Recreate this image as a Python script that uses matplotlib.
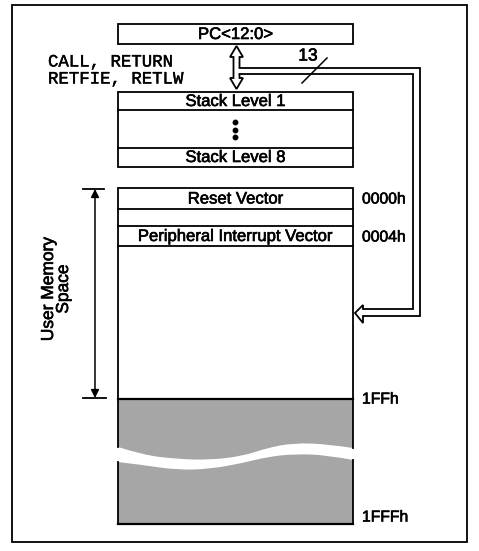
import matplotlib.pyplot as plt
import matplotlib.patheffects as pe
from matplotlib.patches import Rectangle, Polygon, PathPatch
from matplotlib.path import Path

# text content
pc_label = "PC<12:0>"
instr_lines = ["CALL, RETURN", "RETFIE, RETLW"]
bus_width = "13"
stack_labels = ["Stack Level 1", "Stack Level 8"]
mem_rows = ["Reset Vector", "", "Peripheral Interrupt Vector"]
addr_labels = ["0000h", "0004h", "1FFh", "1FFFh"]
side_label = "User Memory\nSpace"

# wave break through the unimplemented (grey) part
wave_x = [118, 143, 177, 210, 243, 267, 293, 327, 353]
wave_top = [447, 455, 459, 460, 456, 448, 443, 444, 448]
wave_bot = [462, 465, 470, 469, 463, 457, 454, 455, 460]

fig = plt.figure(figsize=(4.79, 5.51), dpi=100)
ax = fig.add_axes([0, 0, 1, 1])
ax.set_xlim(0, 479)
ax.set_ylim(551, 0)
ax.axis("off")

sans = "Liberation Sans"
thick = [pe.withStroke(linewidth=0.45, foreground="black")]
lw = 1.3
L, R = 118, 353
cx = (L + R) / 2

def label(x, y, s, size=12, **kw):
    ax.text(x, y, s, family=sans, fontsize=size, va="center", path_effects=thick, **kw)

def smooth(pts):
    # quadratic bezier through midpoints, read points act as controls
    verts = [pts[0]]
    codes = [Path.LINETO]
    for i in range(1, len(pts) - 1):
        mid = ((pts[i][0] + pts[i + 1][0]) / 2, (pts[i][1] + pts[i + 1][1]) / 2)
        if i == len(pts) - 2:
            mid = pts[-1]
        verts += [pts[i], mid]
        codes += [Path.CURVE3, Path.CURVE3]
    return verts, codes

# outer frame
ax.add_patch(Rectangle((12, 5), 455, 537, fill=False, lw=1.3, ec="black"))

# PC box
ax.add_patch(Rectangle((L, 24), R - L, 20, fill=False, lw=lw))
label(cx, 34.5, pc_label, ha="center")

# instructions
for i, s in enumerate(instr_lines):
    ax.text(48, 62 + i * 17, s, ha="left", va="center", family="Liberation Mono",
            fontsize=12.5, path_effects=[pe.withStroke(linewidth=0.3, foreground="black")])

# stack
ax.add_patch(Rectangle((L, 92), R - L, 75, fill=False, lw=lw))
ax.plot([L, R], [110, 110], color="black", lw=lw)
ax.plot([L, R], [148, 148], color="black", lw=lw)
label(cx, 101.5, stack_labels[0], ha="center")
label(cx, 157.5, stack_labels[1], ha="center")
ax.plot([cx, cx, cx], [122, 130, 137], "o", color="black", ms=3.2)

# double-headed hollow arrow between PC and stack
arr = [(239.5, 74), (239.5, 78), (243, 78), (236.5, 89), (230, 78), (233.5, 78),
       (233.5, 57), (230, 57), (236.5, 46), (243, 57), (239.5, 57), (239.5, 68)]
ax.add_patch(Polygon(arr, closed=False, fc="white", ec="black", lw=lw))

# bus to program memory
bus = [(239.5, 68), (420, 68), (420, 316), (363, 316), (363, 323), (355, 313),
       (363, 305), (363, 309), (413, 309), (413, 74), (239.5, 74)]
xs, ys = zip(*bus)
ax.plot(xs, ys, color="black", lw=lw, solid_joinstyle="miter")
label(308, 56, bus_width, size=12.5, ha="center")
ax.plot([302, 327], [83, 58], color="black", lw=1.1)

# program memory
top, split, bottom = 188, 399, 524
ax.add_patch(Rectangle((L, top), R - L, split - top, fill=False, lw=lw))
row_edges = [188, 209, 226, 246]
for y in row_edges[1:]:
    ax.plot([L, R], [y, y], color="black", lw=lw)
for i, s in enumerate(mem_rows):
    if s:
        label(cx, (row_edges[i] + row_edges[i + 1]) / 2 + 0.5, s, ha="center")

# grey unimplemented area with wave break
grey = "#a6a6a6"
tv, tc = smooth(list(zip(wave_x, wave_top)))
up_v = [(L, split), (R, split)] + tv[::-1] + [(L, split)]
up_c = [Path.MOVETO, Path.LINETO] + [Path.LINETO] + tc[1:][::-1] + [Path.CLOSEPOLY]
# reversed bezier keeps control/end pairing since CURVE3 segments are symmetric
ax.add_patch(PathPatch(Path(up_v, up_c), fc=grey, ec="none"))
bv, bc = smooth(list(zip(wave_x, wave_bot)))
lo_v = bv + [(R, bottom), (L, bottom), bv[0]]
lo_c = [Path.MOVETO] + bc[1:] + [Path.LINETO, Path.LINETO, Path.CLOSEPOLY]
ax.add_patch(PathPatch(Path(lo_v, lo_c), fc=grey, ec="none"))
ax.plot([L, R], [split, split], color="black", lw=1.6)
ax.plot([L, R], [bottom, bottom], color="black", lw=1.6)
ax.plot([L, L], [split, wave_top[0]], color="black", lw=lw)
ax.plot([R, R], [split, wave_top[-1]], color="black", lw=lw)
ax.plot([L, L], [wave_bot[0], bottom], color="black", lw=lw)
ax.plot([R, R], [wave_bot[-1], bottom], color="black", lw=lw)

# addresses
addr_y = [199, 237, 399, 517]
for s, y in zip(addr_labels, addr_y):
    label(362, y, s, size=11.3, ha="left")

# user memory span
ax.plot([83, 104], [189, 189], color="black", lw=lw)
ax.plot([83, 106], [398, 398], color="black", lw=lw)
ax.annotate("", xy=(95, 189), xytext=(95, 398),
            arrowprops=dict(arrowstyle="<|-|>", color="black", lw=1.1,
                            mutation_scale=12, shrinkA=0, shrinkB=0))
ax.text(56, 289, side_label, rotation=90, ha="center", va="center", family=sans,
        fontsize=12.5, linespacing=1.0, path_effects=thick)

fig.savefig("out.png", dpi=100)
